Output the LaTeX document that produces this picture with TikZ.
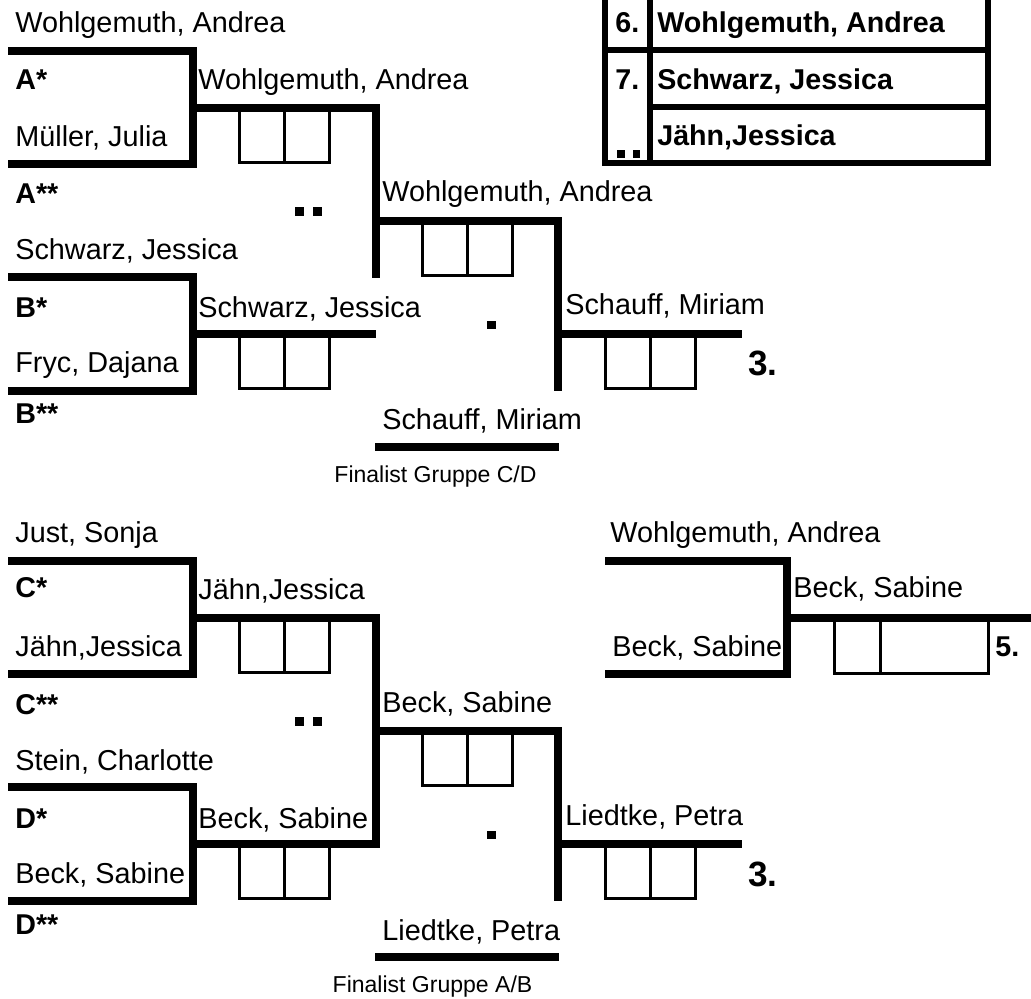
\documentclass[tikz,border=0pt]{standalone}
\usepackage{fontspec}
\setmainfont{Liberation Sans}

\tikzset{
  thickbar/.style={line width=0.17cm},
  tablebar/.style={line width=0.13cm},
  scorebox/.style={line width=0.06cm},
  player/.style={anchor=base west, inner sep=0pt, font=\fontsize{16.4}{19}\selectfont},
  seed/.style={player, font=\fontsize{16.3}{19}\selectfont\bfseries},
  rank/.style={anchor=base west, inner sep=0pt, font=\fontsize{20}{24}\selectfont\bfseries},
  finalist/.style={anchor=base, inner sep=0pt, font=\fontsize{13.1}{15}\selectfont},
}

\begin{document}
\begin{tikzpicture}[x=0.02cm, y=-0.02cm]
  \useasboundingbox (0,0) rectangle (1031,999);
  \clip (0,0) rectangle (1031,999);

  % Brackets of group C/D (top) and group A/B (510px lower)
  \foreach \dy/\vend in {0/278, 510/338} {
    \begin{scope}[shift={(0,\dy)}]
      % first round
      \draw[thickbar] (8,51) -- (193,51) -- (193,164) -- (8,164);
      \draw[thickbar] (8,277) -- (193,277) -- (193,391) -- (8,391);
      % second round
      \draw[thickbar] (193,108) -- (376,108) -- (376,\vend);
      \draw[thickbar] (193,334) -- (376,334);
      \draw[thickbar] (376,221) -- (558,221) -- (558,391);
      \draw[thickbar] (558,334) -- (742,334);
      \draw[thickbar] (375,447) -- (559,447);
      % score boxes
      \foreach \bx/\by in {239.5/110, 239.5/336, 422.5/223, 605.5/336} {
        \draw[scorebox] (\bx,\by) rectangle ++(90,52.5);
        \draw[scorebox] (\bx+45,\by) -- ++(0,52.5);
      }
      % dots
      \fill (295,207) rectangle (304,216);
      \fill (313,207) rectangle (322,216);
      \fill (487,321) rectangle (496,329);
    \end{scope}
  }

  % Names of group C/D
  \node[player] (wohlA)   at (15,33)   {Wohlgemuth, Andrea};
  \node[seed]   (seedA1)  at (15,90)   {A*};
  \node[player] (muell)   at (15,147)  {Müller, Julia};
  \node[seed]   (seedA2)  at (15,204)  {A**};
  \node[player] (schwJ)   at (15,260)  {Schwarz, Jessica};
  \node[seed]   (seedB1)  at (15,318)  {B*};
  \node[player] (fryc)    at (15,373)  {Fryc, Dajana};
  \node[seed]   (seedB2)  at (15,424)  {B**};
  \node[player] (wohlR2)  at (198,90)  {Wohlgemuth, Andrea};
  \node[player] (schwR2)  at (198,318) {Schwarz, Jessica};
  \node[player] (wohlR3)  at (382,202) {Wohlgemuth, Andrea};
  \node[player] (schaR3)  at (565,315) {Schauff, Miriam};
  \node[player] (schaFin) at (382,430) {Schauff, Miriam};
  \node[rank]   (thirdCD) at (748,376) {3.};
  \node[finalist] (finCD) at (435.5,483) {Finalist Gruppe C/D};

  % Names of group A/B
  \node[player] (just)    at (15,543)  {Just, Sonja};
  \node[seed]   (seedC1)  at (15,598)  {C*};
  \node[player] (jaehn)   at (15,657)  {Jähn,Jessica};
  \node[seed]   (seedC2)  at (15,714)  {C**};
  \node[player] (stein)   at (15,770)  {Stein, Charlotte};
  \node[seed]   (seedD1)  at (15,828)  {D*};
  \node[player] (beck)    at (15,883)  {Beck, Sabine};
  \node[seed]   (seedD2)  at (15,934)  {D**};
  \node[player] (jaehnR2) at (198,600) {Jähn,Jessica};
  \node[player] (beckR2)  at (198,828) {Beck, Sabine};
  \node[player] (beckR3)  at (382,712) {Beck, Sabine};
  \node[player] (liedR3)  at (565,825) {Liedtke, Petra};
  \node[player] (liedFin) at (382,940) {Liedtke, Petra};
  \node[rank]   (thirdAB) at (748,886) {3.};
  \node[finalist] (finAB) at (432.5,992) {Finalist Gruppe A/B};

  % Final for fifth place
  \draw[thickbar] (605,561) -- (787,561) -- (787,674) -- (605,674);
  \draw[thickbar] (787,618) -- (1040,618);
  \draw[scorebox] (834.5,620) rectangle (988.5,673.5);
  \draw[scorebox] (880,620) -- (880,673.5);
  \node[player] (wohlF) at (610,543) {Wohlgemuth, Andrea};
  \node[player] (beckF) at (612,657) {Beck, Sabine};
  \node[player] (beckW) at (793,598) {Beck, Sabine};
  \node[seed]   (fifth) at (995,657) {5.};

  % Ranking table
  \draw[tablebar] (605,-10) -- (605,163) -- (988,163) -- (988,-10);
  \draw[tablebar] (650,-10) -- (650,163);
  \draw[tablebar] (605,50) -- (988,50);
  \draw[tablebar] (650,107) -- (988,107);
  \node[seed] (six)    at (615,33)  {6.};
  \node[seed] (sixN)   at (657,33)  {Wohlgemuth, Andrea};
  \node[seed] (seven)  at (615,90)  {7.};
  \node[seed] (sevenN) at (657,90)  {Schwarz, Jessica};
  \node[seed] (eightN) at (657,146) {Jähn,Jessica};
  \fill (617,150) rectangle (625,158);
  \fill (633,150) rectangle (640,158);
\end{tikzpicture}
\end{document}
